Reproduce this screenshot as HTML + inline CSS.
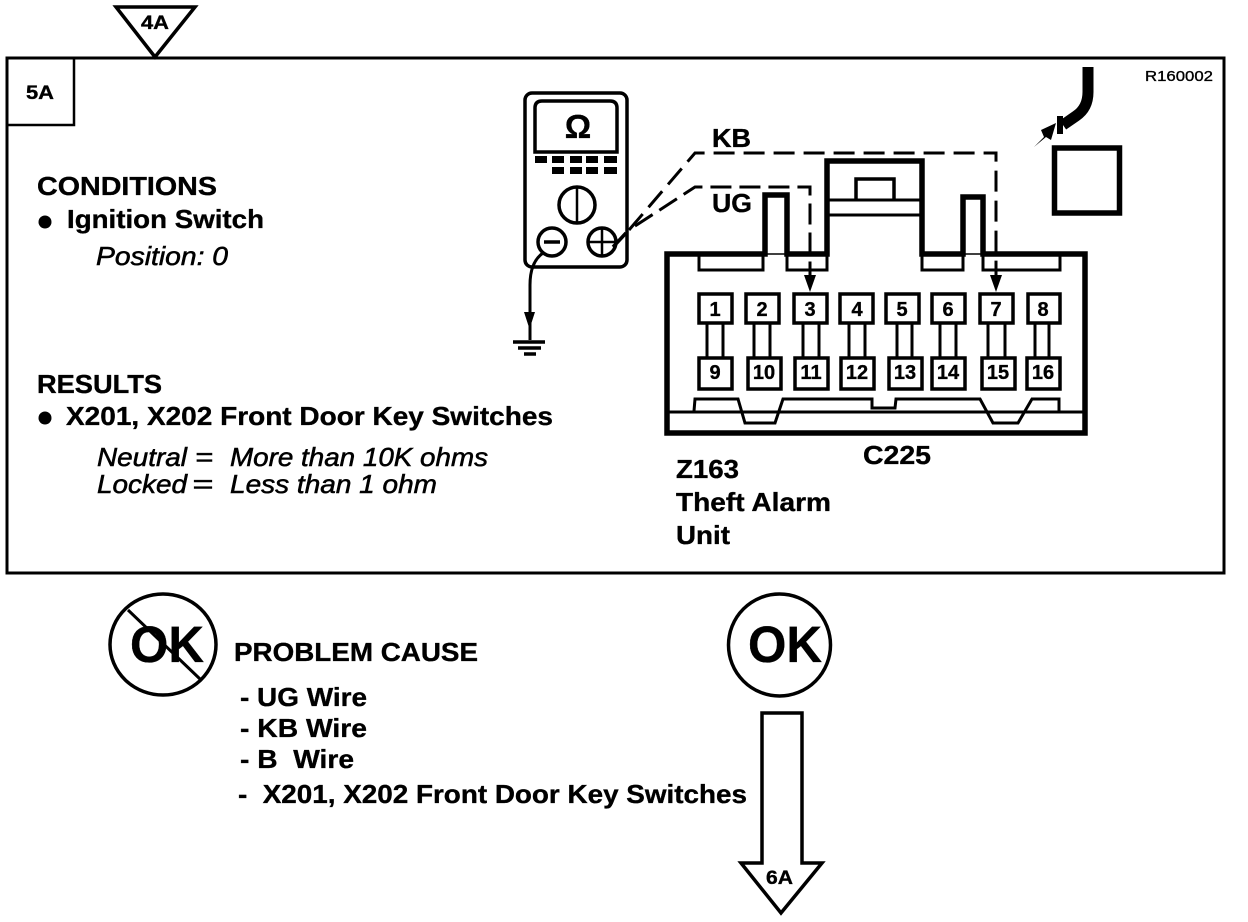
<!DOCTYPE html>
<html><head><meta charset="utf-8"><style>
html,body{margin:0;padding:0;background:#fff}
svg{display:block}
text{font-family:"Liberation Sans",sans-serif;font-weight:bold;fill:#000;stroke:#000;stroke-width:.35px}
.i{font-style:italic;font-weight:normal;stroke-width:.55px}
.n{font-size:20px;text-anchor:middle}
</style></head><body>
<svg width="1248" height="922" viewBox="0 0 1248 922" xmlns="http://www.w3.org/2000/svg">
<rect width="1248" height="922" fill="#fff"/>
<g fill="none" stroke="#000" stroke-width="3">
<rect x="7" y="58" width="1217" height="515"/>
<path d="M7 125H74V58" stroke-width="2.500"/>
<path d="M116 7H195L155 57Z" stroke-width="3.500"/>
<ellipse cx="163" cy="644.500" rx="53" ry="50.500" stroke-width="3.500"/>
<path d="M128 610L200 679" stroke-width="3"/>
<circle cx="779.500" cy="645" r="51" stroke-width="3.500"/>
<path d="M762 863V713H802V863H822L781 913L741 863Z" stroke-width="3.500"/>
<!-- multimeter -->
<rect x="525" y="93" width="102" height="174" rx="7" stroke-width="3.500"/>
<path d="M535 152V108Q535 101 542 101H610Q617 101 617 108V152Z" stroke-width="3.500"/>
<circle cx="577" cy="205" r="18" stroke-width="3.500"/>
<path d="M577 187V223" stroke-width="2.500"/>
<circle cx="552" cy="242" r="14" stroke-width="3.500"/>
<path d="M544 242H560" stroke-width="3.500"/>
<circle cx="602" cy="242" r="14" stroke-width="3.500"/>
<path d="M589 242H615M602 229V255" stroke-width="2.500"/>
<path d="M543 253Q530 262 530 285V340" stroke-width="3"/>
<path d="M513 342H545" stroke-width="3.500"/><path d="M518 348H541" stroke-width="3.500"/><path d="M524 354H536" stroke-width="3.500"/>
<!-- dashed wires -->
<path d="M613 247L626 233" stroke-width="3.500"/>
<path d="M629 230L695 153H996V276" stroke-width="3" stroke-dasharray="21 9"/>
<path d="M635 226L695 187H810V276" stroke-width="3" stroke-dasharray="21 8"/>
<!-- connector -->
<path d="M667 433V254H765V195H787V254H827V161H922V254H963V197H983V254H1085V433Z" stroke-width="5.500"/>
<path d="M765 254H787M963 254H983" stroke-width="1.500"/>
<path d="M699 256V270H763V256M787 256V270H827V256M922 256V270H963V256M983 256V270H1060V256" stroke-width="3"/>
<path d="M827 200H922M827 215H922" stroke-width="3"/>
<path d="M856 200V179H894V200" stroke-width="3.500"/>
<path d="M667 412H1085" stroke-width="3"/>
<path d="M694 411L695 399H738L745 423H775L783 399H872V408H895L896 399H980L993 423H1018L1032 399H1059V411" stroke-width="3"/>
<!-- links -->
<path d="M707 323V357M723 323V357M754 323V357M770 323V357M803 323V357M819 323V357M849 323V357M865 323V357M897 323V357M912 323V357M940 323V357M956 323V357M988 323V357M1005 323V357M1035 323V357M1049 323V357" stroke-width="3"/>
<!-- pins -->
<g stroke-width="3.500">
<rect x="699" y="294" width="33" height="29"/><rect x="746" y="294" width="33" height="29"/><rect x="794" y="294" width="33" height="29"/><rect x="840" y="294" width="33" height="29"/><rect x="886" y="294" width="33" height="29"/><rect x="932" y="294" width="33" height="29"/><rect x="980" y="294" width="33" height="29"/><rect x="1028" y="294" width="32" height="29"/>
<rect x="699" y="358" width="33" height="31"/><rect x="748" y="358" width="33" height="31"/><rect x="795" y="358" width="33" height="31"/><rect x="841" y="358" width="33" height="31"/><rect x="889" y="358" width="33" height="31"/><rect x="932" y="358" width="33" height="31"/><rect x="982" y="358" width="33" height="31"/><rect x="1027" y="358" width="33" height="31"/>
</g>
<!-- box and connector at upper right -->
<rect x="1054.500" y="148" width="65" height="65" stroke-width="5.500"/>
<path d="M1088 67V92Q1088 108 1076 116L1063 125" stroke-width="11"/>
<path d="M1060 116L1060 134" stroke-width="6"/>
</g>
<g fill="#000">
<path d="M804 275H816L810 292Z"/><path d="M990 275H1002L996 292Z"/>
<path d="M524 312H535L529.500 329Z"/>
<path d="M1034 147L1044 137L1041 130L1056 123L1051 140L1046 137Z"/>
<rect x="535" y="156" width="12" height="7"/><rect x="552" y="156" width="12" height="7"/><rect x="570" y="156" width="12" height="7"/><rect x="586" y="156" width="12" height="7"/><rect x="604" y="156" width="13" height="7"/>
<rect x="552" y="167" width="12" height="7"/><rect x="570" y="167" width="12" height="7"/><rect x="586" y="167" width="12" height="7"/><rect x="604" y="167" width="13" height="7"/>
<circle cx="45" cy="222" r="6.500"/><circle cx="45" cy="418" r="6.500"/>
</g>
<text x="578" y="138" font-size="33" text-anchor="middle">Ω</text>
<text x="37" y="195" font-size="26" textLength="180" lengthAdjust="spacingAndGlyphs">CONDITIONS</text>
<text x="67" y="228" font-size="26" textLength="197" lengthAdjust="spacingAndGlyphs">Ignition Switch</text>
<text class="i" x="96" y="265" font-size="26" textLength="132" lengthAdjust="spacingAndGlyphs">Position: 0</text>
<text x="37" y="393" font-size="26" textLength="125" lengthAdjust="spacingAndGlyphs">RESULTS</text>
<text x="66" y="425" font-size="26" textLength="487" lengthAdjust="spacingAndGlyphs">X201, X202 Front Door Key Switches</text>
<text class="i" x="97" y="466" font-size="26" textLength="90" lengthAdjust="spacingAndGlyphs">Neutral</text>
<text class="i" x="195" y="466" font-size="26" textLength="18" lengthAdjust="spacingAndGlyphs">=</text>
<text class="i" x="230" y="466" font-size="26" textLength="258" lengthAdjust="spacingAndGlyphs">More than 10K ohms</text>
<text class="i" x="97" y="493" font-size="26" textLength="90" lengthAdjust="spacingAndGlyphs">Locked</text>
<text class="i" x="192" y="493" font-size="26" textLength="21" lengthAdjust="spacingAndGlyphs">=</text>
<text class="i" x="230" y="493" font-size="26" textLength="207" lengthAdjust="spacingAndGlyphs">Less than 1 ohm</text>
<text x="1145" y="81" font-size="15" textLength="68" lengthAdjust="spacingAndGlyphs" style="font-weight:normal">R160002</text>
<text x="26" y="99" font-size="19" textLength="28" lengthAdjust="spacingAndGlyphs">5A</text>
<text x="141" y="29" font-size="19" textLength="28" lengthAdjust="spacingAndGlyphs">4A</text>
<text x="766" y="884" font-size="19" textLength="27" lengthAdjust="spacingAndGlyphs">6A</text>
<text x="712" y="147" font-size="26" textLength="39" lengthAdjust="spacingAndGlyphs">KB</text>
<text x="712" y="212" font-size="26" textLength="40" lengthAdjust="spacingAndGlyphs">UG</text>
<text x="863" y="464" font-size="26" textLength="68" lengthAdjust="spacingAndGlyphs">C225</text>
<text x="676" y="478" font-size="26" textLength="63" lengthAdjust="spacingAndGlyphs">Z163</text>
<text x="676" y="511" font-size="26" textLength="155" lengthAdjust="spacingAndGlyphs">Theft Alarm</text>
<text x="676" y="544" font-size="26" textLength="54" lengthAdjust="spacingAndGlyphs">Unit</text>
<text x="234" y="661" font-size="26" textLength="244" lengthAdjust="spacingAndGlyphs">PROBLEM CAUSE</text>
<text x="240" y="706" font-size="26" textLength="127" lengthAdjust="spacingAndGlyphs">- UG Wire</text>
<text x="240" y="737" font-size="26" textLength="127" lengthAdjust="spacingAndGlyphs">- KB Wire</text>
<text x="240" y="768" font-size="26" textLength="114" lengthAdjust="spacingAndGlyphs" xml:space="preserve">- B  Wire</text>
<text x="238" y="803" font-size="26" textLength="509" lengthAdjust="spacingAndGlyphs" xml:space="preserve">-  X201, X202 Front Door Key Switches</text>
<text x="130" y="662" font-size="51" textLength="74" lengthAdjust="spacingAndGlyphs">OK</text>
<text x="748" y="662" font-size="51" textLength="74" lengthAdjust="spacingAndGlyphs">OK</text>
<g class="nums">
<text class="n" x="715" y="316">1</text><text class="n" x="762" y="316">2</text><text class="n" x="810" y="316">3</text><text class="n" x="857" y="316">4</text><text class="n" x="902" y="316">5</text><text class="n" x="948" y="316">6</text><text class="n" x="996" y="316">7</text><text class="n" x="1043" y="316">8</text>
<text class="n" x="715" y="379">9</text><text class="n" x="764" y="379">10</text><text class="n" x="811" y="379">11</text><text class="n" x="857" y="379">12</text><text class="n" x="905" y="379">13</text><text class="n" x="948" y="379">14</text><text class="n" x="998" y="379">15</text><text class="n" x="1043" y="379">16</text>
</g>
</svg>
</body></html>
